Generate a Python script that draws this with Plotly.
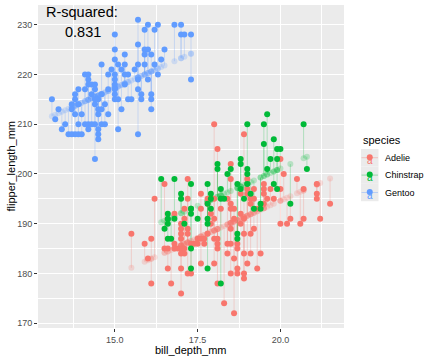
import numpy as np
import plotly.graph_objects as go

# ---------------- data ----------------
adelie_depth = [15.5, 15.9, 16.0, 16.1, 16.1, 16.2, 16.5, 16.5, 16.6, 16.6, 16.7, 16.8, 16.8, 16.8, 16.9,
                17.0, 17.0, 17.0, 17.0, 17.0, 17.0, 17.0, 17.0, 17.1, 17.1, 17.1, 17.1, 17.2, 17.2, 17.2,
                17.2, 17.2, 17.3, 17.3, 17.4, 17.5, 17.5, 17.6, 17.6, 17.6, 17.6, 17.7, 17.7, 17.8, 17.8,
                17.8, 17.9, 17.9, 18.0, 18.0, 18.0, 18.0, 18.0, 18.1, 18.1, 18.1, 18.1, 18.1, 18.2, 18.3,
                18.4, 18.4, 18.4, 18.5, 18.5, 18.5, 18.5, 18.5, 18.5, 18.5, 18.6, 18.6, 18.6, 18.6, 18.7,
                18.7, 18.7, 18.7, 18.8, 18.8, 18.8, 18.9, 18.9, 18.9, 18.9, 18.9, 18.9, 19.0, 19.0, 19.0,
                19.0, 19.1, 19.1, 19.1, 19.1, 19.2, 19.2, 19.2, 19.3, 19.3, 19.4, 19.5, 19.5, 19.5, 19.5,
                19.6, 19.7, 19.8, 20.0, 20.0, 20.0, 20.1, 20.2, 20.3, 20.5, 20.6, 20.7, 20.7, 21.1, 21.1,
                21.1, 21.2, 21.5]
adelie_flipper = [188, 186, 183, 187, 178, 195, 198, 185, 185, 181, 178, 186, 192, 185, 185,
                  185, 189, 190, 188, 187, 181, 176, 184, 185, 184, 193, 191, 199, 189, 188,
                  195, 180, 180, 186, 186, 186, 187, 196, 182, 193, 187, 187, 186, 195, 194,
                  188, 192, 190, 210, 195, 191, 187, 182, 205, 187, 186, 185, 178, 193, 174,
                  195, 186, 184, 202, 199, 194, 193, 189, 186, 180, 193, 191, 183, 172, 186,
                  185, 181, 180, 196, 192, 190, 208, 191, 188, 184, 180, 179, 199, 197, 196,
                  182, 195, 194, 188, 184, 197, 195, 189, 193, 181, 184, 198, 197, 196, 194,
                  195, 197, 195, 203, 197, 190, 200, 190, 191, 199, 190, 197, 191, 198, 196,
                  195, 191, 194]

chinstrap_depth = [16.4, 16.5, 16.6, 16.6, 16.6, 16.6, 16.7, 16.8, 16.8, 17.0, 17.0, 17.1, 17.3, 17.3,
                   17.3, 17.3, 17.3, 17.5, 17.8, 17.8, 17.8, 17.8, 17.8, 17.9, 17.9, 17.9, 18.1, 18.1,
                   18.2, 18.2, 18.2, 18.3, 18.4, 18.5, 18.7, 18.7, 18.7, 18.8, 18.8, 18.8, 18.9, 19.0,
                   19.0, 19.0, 19.0, 19.1, 19.2, 19.4, 19.4, 19.5, 19.5, 19.6, 19.6, 19.7, 19.8, 19.8,
                   19.9, 19.9, 19.9, 20.0, 20.3, 20.7, 20.8]
chinstrap_flipper = [199, 189, 192, 191, 190, 187, 187, 199, 191, 196, 195, 190, 198, 193,
                     192, 185, 181, 191, 198, 194, 191, 190, 181, 196, 195, 193, 202, 201,
                     197, 195, 178, 195, 200, 201, 198, 188, 187, 203, 202, 197, 195, 210,
                     201, 200, 198, 196, 193, 194, 193, 210, 206, 212, 201, 203, 207, 198,
                     205, 203, 197, 205, 194, 210, 201]

gentoo_depth = [13.1, 13.2, 13.3, 13.4, 13.5, 13.6, 13.7, 13.7, 13.7, 13.8, 13.8, 13.8, 13.8, 13.9,
                13.9, 13.9, 13.9, 14.0, 14.0, 14.1, 14.1, 14.1, 14.2, 14.2, 14.2, 14.2, 14.2, 14.3,
                14.3, 14.3, 14.4, 14.4, 14.4, 14.4, 14.4, 14.4, 14.5, 14.5, 14.5, 14.5, 14.5, 14.5,
                14.6, 14.6, 14.6, 14.6, 14.7, 14.7, 14.8, 14.8, 14.8, 14.9, 15.0, 15.0, 15.0, 15.0,
                15.0, 15.0, 15.0, 15.0, 15.0, 15.1, 15.1, 15.1, 15.2, 15.2, 15.3, 15.3, 15.3, 15.3,
                15.4, 15.4, 15.5, 15.6, 15.7, 15.7, 15.7, 15.7, 15.7, 15.7, 15.8, 15.8, 15.9, 15.9,
                15.9, 15.9, 16.0, 16.0, 16.0, 16.1, 16.1, 16.1, 16.1, 16.2, 16.2, 16.3, 16.3, 16.4,
                16.5, 16.8, 17.0, 17.0, 17.1, 17.3, 17.3]
gentoo_flipper = [215, 211, 213, 209, 210, 208, 208, 214, 213, 208, 215, 216, 212, 208,
                  210, 217, 214, 208, 212, 220, 217, 210, 220, 219, 218, 210, 209, 218,
                  216, 210, 218, 217, 215, 214, 210, 203, 215, 213, 212, 209, 208, 207,
                  222, 216, 213, 210, 214, 210, 220, 217, 212, 221, 228, 225, 223, 220,
                  219, 218, 217, 216, 215, 222, 215, 209, 221, 213, 224, 222, 220, 218,
                  220, 215, 215, 221, 231, 226, 222, 219, 217, 208, 216, 215, 229, 225,
                  224, 222, 230, 225, 219, 224, 216, 215, 213, 229, 222, 230, 220, 223,
                  225, 230, 230, 228, 228, 228, 219]

species = ["Adelie", "Chinstrap", "Gentoo"]
colors = {"Adelie": "#F8766D", "Chinstrap": "#00BA38", "Gentoo": "#619CFF"}
rgb = {"Adelie": (248, 118, 109), "Chinstrap": (0, 186, 56), "Gentoo": (97, 156, 255)}
r_squared_label = "0.831"

data = {
    "Adelie": (np.array(adelie_depth), np.array(adelie_flipper, dtype=float)),
    "Chinstrap": (np.array(chinstrap_depth), np.array(chinstrap_flipper, dtype=float)),
    "Gentoo": (np.array(gentoo_depth), np.array(gentoo_flipper, dtype=float)),
}

# additive model: flipper ~ bill_depth + species
X_rows, y_all = [], []
for i, s in enumerate(species):
    d, f = data[s]
    for dv, fv in zip(d, f):
        row = [dv, 0.0, 0.0, 0.0]
        row[1 + i] = 1.0
        X_rows.append(row)
        y_all.append(fv)
coef, *_ = np.linalg.lstsq(np.array(X_rows), np.array(y_all), rcond=None)
fitted = {s: coef[0] * data[s][0] + coef[1 + i] for i, s in enumerate(species)}

fig = go.Figure()
draw_order = ["Adelie", "Gentoo", "Chinstrap"]

# segments
for s in draw_order:
    d, f = data[s]
    xs, ys = [], []
    for dv, fv, hv in zip(d, f, fitted[s]):
        xs += [dv, dv, None]
        ys += [fv, hv, None]
    r, g, b = rgb[s]
    fig.add_trace(go.Scatter(x=xs, y=ys, mode="lines", showlegend=False, hoverinfo="skip",
                             line=dict(color=f"rgba({r},{g},{b},0.25)", width=1)))
# fitted points
for s in draw_order:
    d, f = data[s]
    fig.add_trace(go.Scatter(x=d, y=fitted[s], mode="markers", showlegend=False,
                             marker=dict(color=colors[s], size=6, opacity=0.22, line=dict(width=0))))
# actual points
for s in draw_order:
    d, f = data[s]
    fig.add_trace(go.Scatter(x=d, y=f, mode="markers", showlegend=False, name=s,
                             marker=dict(color=colors[s], size=6, line=dict(width=0))))

font_family = "Liberation Sans, Arial, sans-serif"
L, R, T, B = 38, 88, 5, 32
W, H = 432, 360
pw, ph = W - L - R, H - T - B

def px(xp):
    return (xp - L) / pw

def py(yp):
    return (H - B - yp) / ph

fig.update_layout(
    width=W, height=H, margin=dict(l=L, r=R, t=T, b=B),
    paper_bgcolor="white", plot_bgcolor="#EBEBEB",
    font=dict(family=font_family),
    showlegend=False,
    xaxis=dict(range=[12.68, 21.92], tickmode="array", tickvals=[15, 17.5, 20],
               ticktext=["15.0", "17.5", "20.0"], showgrid=True, gridcolor="white", gridwidth=1.1,
               zeroline=False, ticks="outside", ticklen=3, tickcolor="#333333", tickwidth=1,
               tickfont=dict(size=9, color="#4D4D4D"), showline=False,
               minor=dict(tickvals=[13.75, 16.25, 18.75, 21.25], showgrid=True,
                          gridcolor="white", gridwidth=0.5, ticks="")),
    yaxis=dict(range=[169.05, 233.95], tickmode="array", tickvals=[170, 180, 190, 200, 210, 220, 230],
               showgrid=True, gridcolor="white", gridwidth=1.1, zeroline=False,
               ticks="outside", ticklen=3, tickcolor="#333333", tickwidth=1,
               tickfont=dict(size=9, color="#4D4D4D"), showline=False,
               minor=dict(tickvals=[175, 185, 195, 205, 215, 225], showgrid=True,
                          gridcolor="white", gridwidth=0.5, ticks="")),
)

ann = []
# R-squared label
ann.append(dict(xref="paper", yref="paper", x=px(82), y=py(12), text="R-squared:", showarrow=False,
                font=dict(size=14.5, color="black"), xanchor="center", yanchor="middle"))
ann.append(dict(xref="paper", yref="paper", x=px(83), y=py(32), text=r_squared_label, showarrow=False,
                font=dict(size=14.5, color="black"), xanchor="center", yanchor="middle"))
# axis titles
ann.append(dict(xref="paper", yref="paper", x=0.5, y=py(350), text="bill_depth_mm", showarrow=False,
                font=dict(size=11, color="black"), xanchor="center", yanchor="middle"))
ann.append(dict(xref="paper", yref="paper", x=px(10), y=0.5, text="flipper_length_mm", showarrow=False,
                textangle=-90, font=dict(size=11, color="black"), xanchor="center", yanchor="middle"))
# legend
ann.append(dict(xref="paper", yref="paper", x=px(361), y=py(140), text="species", showarrow=False,
                font=dict(size=11, color="black"), xanchor="left", yanchor="middle"))

shapes = []
key_top = 149
key_h = 17.4
key_x0, key_x1 = 361, 378.5
for i, s in enumerate(species):
    y0 = key_top + i * key_h
    yc = y0 + key_h / 2
    r, g, b = rgb[s]
    shapes.append(dict(type="rect", xref="paper", yref="paper", x0=px(key_x0), x1=px(key_x1),
                       y0=py(y0 + key_h), y1=py(y0), fillcolor="#EBEBEB", line=dict(width=0), layer="above"))
    shapes.append(dict(type="line", xref="paper", yref="paper", x0=px(key_x0 + 0.5), x1=px(key_x1 - 0.5),
                       y0=py(yc), y1=py(yc), line=dict(color=f"rgba({r},{g},{b},0.35)", width=1), layer="above"))
    cx = (key_x0 + key_x1) / 2
    shapes.append(dict(type="circle", xref="paper", yref="paper", xsizemode="pixel", ysizemode="pixel",
                       xanchor=px(cx), yanchor=py(yc - 0.5), x0=-3, x1=3, y0=-3, y1=3,
                       fillcolor=colors[s], line=dict(width=0), layer="above"))
    ann.append(dict(xref="paper", yref="paper", x=px(cx), y=py(yc + 2.5), text="a", showarrow=False,
                    font=dict(size=10, color=colors[s]), xanchor="center", yanchor="middle"))
    ann.append(dict(xref="paper", yref="paper", x=px(383), y=py(yc), text=s, showarrow=False,
                    font=dict(size=9, color="black"), xanchor="left", yanchor="middle"))

fig.update_layout(annotations=ann, shapes=shapes)
fig.write_html("out.html", config={"displayModeBar": False},
               post_script="document.body.style.margin='0';document.body.style.padding='0';")
